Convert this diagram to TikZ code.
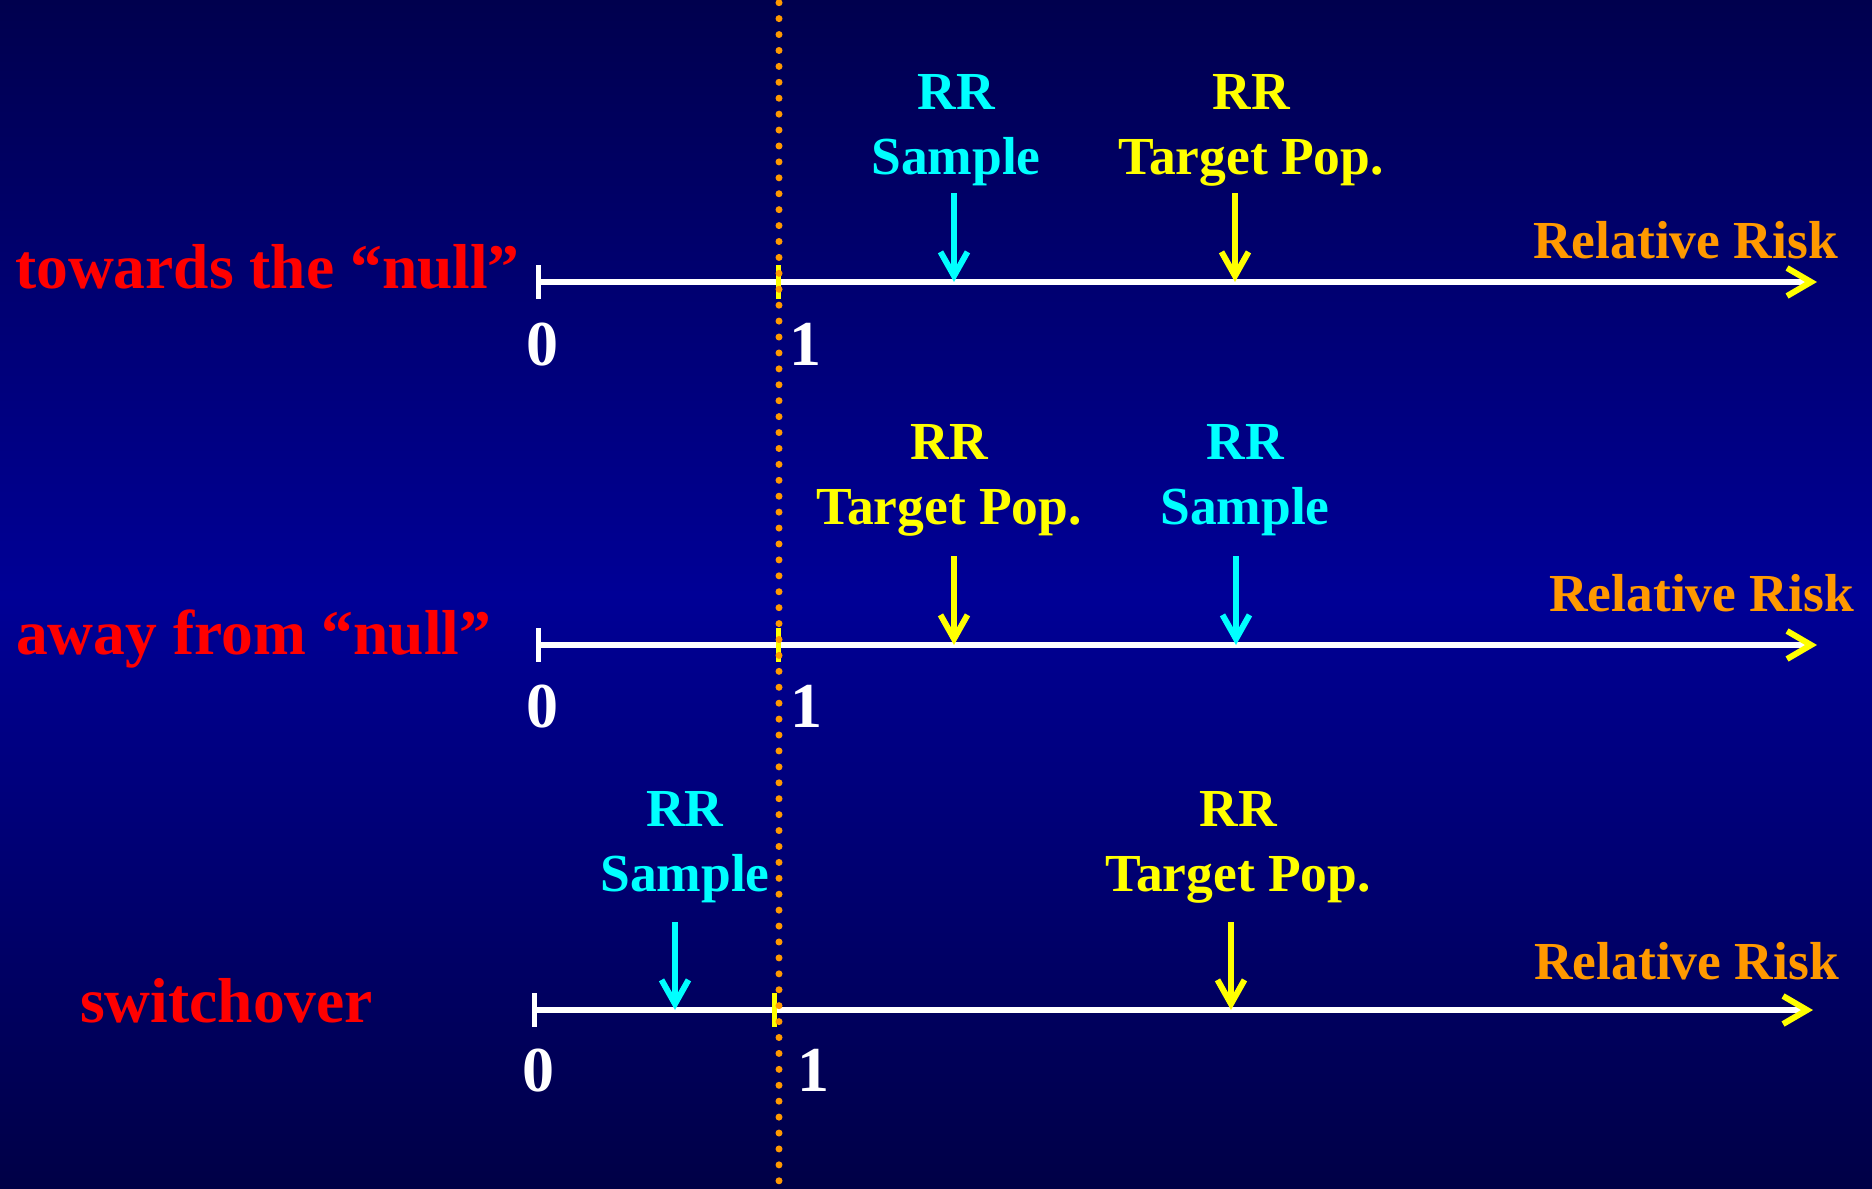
\documentclass[tikz,border=0pt]{standalone}
\usepackage{fontspec}
\setmainfont{Liberation Serif}
\usetikzlibrary{arrows.meta}

\definecolor{bgtop}{RGB}{0,0,78}
\definecolor{bgmid}{RGB}{0,0,150}
\definecolor{bgbot}{RGB}{0,0,70}
\definecolor{riskorange}{RGB}{255,153,0}
\definecolor{nullred}{RGB}{255,0,0}
\definecolor{samplecyan}{RGB}{0,255,255}
\definecolor{targetyellow}{RGB}{255,255,0}

\tikzset{
  lbl/.style={font=\bfseries\fontsize{53.5}{65}\selectfont, inner sep=0pt, align=center},
  biaslbl/.style={font=\bfseries\fontsize{63.5}{70}\selectfont, text=nullred, inner sep=0pt, anchor=base west},
  numlbl/.style={font=\bfseries\fontsize{64}{70}\selectfont, text=white, inner sep=0pt, anchor=base},
  risklbl/.style={lbl, text=riskorange, anchor=base east},
  rrlbl/.style={lbl, anchor=south, text depth=0pt},
  axisline/.style={draw=white, line width=6pt,
    -{Straight Barb[length=24pt,width=28pt,line width=6pt,color=targetyellow]}},
  tickmark/.style={line width=5pt},
  pointer/.style={line width=6pt, -{Straight Barb[length=24pt,width=27pt,line width=6pt]}},
  nullline/.style={draw=riskorange, line width=7pt, line cap=round, dash pattern=on 0pt off 15.92pt},
}

\begin{document}
\begin{tikzpicture}[x=1pt,y=-1pt]
  % background: dark at the edges, brighter blue in the middle
  \shade[top color=bgtop, bottom color=bgbot, middle color=bgmid]
    (0,0) rectangle (1872,1189);
  \useasboundingbox (0,0) rectangle (1872,1189);

  % axis end points and reference marks
  \coordinate (a1s) at (538,282);   \coordinate (a1e) at (1817,282);  \coordinate (a1one) at (778,282);
  \coordinate (a2s) at (538,645);   \coordinate (a2e) at (1817,645);  \coordinate (a2one) at (778,645);
  \coordinate (a3s) at (534,1010);  \coordinate (a3e) at (1813,1010); \coordinate (a3one) at (774,1010);

  % axes
  \foreach \r in {1,2,3}{
    \draw[axisline] (a\r s) -- (a\r e);
    \draw[tickmark, white] ([yshift=17pt]a\r s) -- ([yshift=-17pt]a\r s);
    \draw[tickmark, targetyellow] ([yshift=17pt]a\r one) -- ([yshift=-17pt]a\r one);
  }

  % null value line at RR = 1
  \coordinate (nulltop) at (779,2.7);
  \coordinate (nullbot) at (779,1189);
  \draw[nullline] (nulltop) -- (nullbot);

  % row 1: towards the null
  \node[biaslbl] (b1) at (15,288) {towards the “null”};
  \node[numlbl] (z1) at (542,365) {0};
  \node[numlbl] (o1) at (805,365) {1};
  \node[risklbl] (r1) at (1838,258) {Relative Risk};
  \node[rrlbl, text=samplecyan] (s1) at (956,175) {RR\\Sample};
  \node[rrlbl, text=targetyellow] (t1) at (1251,175) {RR\\Target Pop.};
  \coordinate (s1a) at (954,193);  \coordinate (s1b) at (954,282);
  \coordinate (t1a) at (1235,193); \coordinate (t1b) at (1235,282);
  \draw[pointer, samplecyan] (s1a) -- (s1b);
  \draw[pointer, targetyellow] (t1a) -- (t1b);

  % row 2: away from the null
  \node[biaslbl] (b2) at (16,654) {away from “null”};
  \node[numlbl] (z2) at (542,727) {0};
  \node[numlbl] (o2) at (806,727) {1};
  \node[risklbl] (r2) at (1854,611) {Relative Risk};
  \node[rrlbl, text=targetyellow] (t2) at (949,525) {RR\\Target Pop.};
  \node[rrlbl, text=samplecyan] (s2) at (1245,525) {RR\\Sample};
  \coordinate (t2a) at (954,556);  \coordinate (t2b) at (954,645);
  \coordinate (s2a) at (1236,556); \coordinate (s2b) at (1236,645);
  \draw[pointer, targetyellow] (t2a) -- (t2b);
  \draw[pointer, samplecyan] (s2a) -- (s2b);

  % row 3: switchover
  \node[biaslbl] (b3) at (80,1022) {switchover};
  \node[numlbl] (z3) at (538,1091) {0};
  \node[numlbl] (o3) at (813,1091) {1};
  \node[risklbl] (r3) at (1839,979) {Relative Risk};
  \node[rrlbl, text=samplecyan] (s3) at (685,892) {RR\\Sample};
  \node[rrlbl, text=targetyellow] (t3) at (1238,892) {RR\\Target Pop.};
  \coordinate (s3a) at (675,922);  \coordinate (s3b) at (675,1010);
  \coordinate (t3a) at (1231,922); \coordinate (t3b) at (1231,1010);
  \draw[pointer, samplecyan] (s3a) -- (s3b);
  \draw[pointer, targetyellow] (t3a) -- (t3b);
\end{tikzpicture}
\end{document}
